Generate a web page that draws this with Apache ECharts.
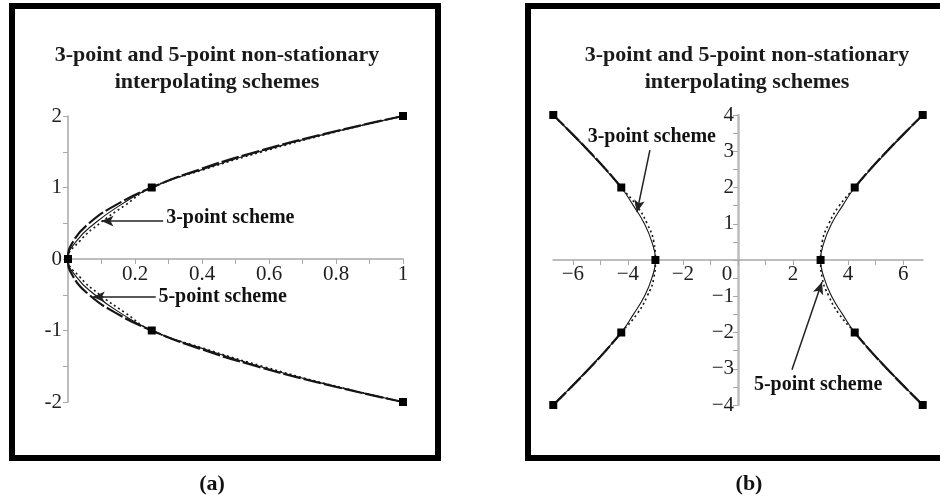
<!DOCTYPE html>
<html>
<head>
<meta charset="utf-8">
<script src="https://cdn.jsdelivr.net/npm/echarts@6/dist/echarts.min.js"></script>
<style>html,body{margin:0;padding:0;background:#fff;}#c{width:940px;height:499px;}</style>
</head>
<body>
<div id="c"></div>
<script>
// ---- Panel (a): parabola-like curve ----
const yA = [-2,-1.75,-1.5,-1.25,-1,-0.75,-0.5,-0.25,0,0.25,0.5,0.75,1,1.25,1.5,1.75,2];
const limitA   = [1,0.766,0.563,0.391,0.25,0.141,0.063,0.016,0,0.016,0.063,0.141,0.25,0.391,0.563,0.766,1];
const scheme3A = [1,0.77,0.57,0.40,0.25,0.155,0.08,0.025,0,0.025,0.08,0.155,0.25,0.40,0.57,0.77,1];
const scheme5A = [1,0.775,0.58,0.405,0.25,0.17,0.095,0.035,0,0.035,0.095,0.17,0.25,0.405,0.58,0.775,1];
const pointsAx = [0,0.25,1,0.25,1];
const pointsAy = [0,1,2,-1,-2];
const xTicksA = [0,0.1,0.2,0.3,0.4,0.5,0.6,0.7,0.8,0.9,1];
const xLabelsA = [0.2,0.4,0.6,0.8,1];
const yTicksA = [-2,-1.5,-1,-0.5,0,0.5,1,1.5,2];
const yLabelsA = [-2,-1,0,1,2];

// ---- Panel (b): hyperbola-like curve (right branch x; left branch = -x) ----
const yB = [-4,-3.5,-3,-2.5,-2,-1.5,-1,-0.5,0,0.5,1,1.5,2,2.5,3,3.5,4];
const limitB   = [6.71,6.05,5.41,4.80,4.24,3.75,3.35,3.09,3,3.09,3.35,3.75,4.24,4.80,5.41,6.05,6.71];
const scheme3B = [6.71,6.05,5.41,4.80,4.24,3.68,3.30,3.06,3,3.06,3.30,3.68,4.24,4.80,5.41,6.05,6.71];
const scheme5B = [6.71,6.06,5.43,4.82,4.24,3.80,3.40,3.13,3,3.13,3.40,3.80,4.24,4.82,5.43,6.06,6.71];
const pointsBx = [3,4.24,6.71,4.24,6.71,-3,-4.24,-6.71,-4.24,-6.71];
const pointsBy = [0,2,4,-2,-4,0,2,4,-2,-4];
const xTicksB = [-6,-5,-4,-3,-2,-1,0,1,2,3,4,5,6];
const xLabelsB = [-6,-4,-2,0,2,4,6];
const yTicksB = [-4,-3.5,-3,-2.5,-2,-1.5,-1,-0.5,0,0.5,1,1.5,2,2.5,3,3.5,4];
const yLabelsB = [-4,-3,-2,-1,1,2,3,4];

const titleText = '3-point and 5-point non-stationary\ninterpolating schemes';
const label3 = '3-point scheme';
const label5 = '5-point scheme';

const FONT = 'Liberation Serif';
const INK = '#161616';
const AXIS = '#a8a8a8';

// layout
const gridA = { left: 68, top: 116, width: 335, height: 286 };
const gridB = { left: 553, top: 115, width: 370, height: 290 };
const xRangeA = [0, 1], yRangeA = [-2, 2];
const xRangeB = [-6.72, 6.72], yRangeB = [-4, 4];
// offsets that put each axis through the origin (axis lines, ticks and labels move together)
const offXA = -gridA.height * (0 - yRangeA[0]) / (yRangeA[1] - yRangeA[0]);
const offXB = -gridB.height * (0 - yRangeB[0]) / (yRangeB[1] - yRangeB[0]);
const offYB = -gridB.width * (0 - xRangeB[0]) / (xRangeB[1] - xRangeB[0]);

function pairs(xs, ys, sign) { return xs.map((x, i) => [x * (sign || 1), ys[i]]); }
function outerSeg(xs, ys, sign, up) { return xs.map((x, i) => (up ? ys[i] >= 2 : ys[i] <= -2) ? [x * sign, ys[i]] : null).filter(p => p); }

const labelStyle = { fontFamily: FONT, fontSize: 21, color: '#1e1e1e' };
function axisCommon() {
  return {
    type: 'value',
    axisLine: { show: true, onZero: false, lineStyle: { color: AXIS, width: 1.5 } },
    splitLine: { show: false },
  };
}
const mainLine = { color: INK, width: 2.2, type: [18, 3] };
const thinLine = { color: INK, width: 1.1, type: 'solid' };
const dotLine = { color: INK, width: 1.6, type: [2, 3] };
const sq = { type: 'scatter', symbol: 'rect', symbolSize: 8, itemStyle: { color: '#000', opacity: 1 }, z: 5 };
const annLabel = { show: true, fontFamily: FONT, fontWeight: 'bold', fontSize: 20, color: '#111', opacity: 1, formatter: p => p.name };
const arrowML = (from, to) => ({
  symbol: ['none', 'arrow'], symbolSize: [8, 12], silent: true,
  label: { show: false },
  lineStyle: { color: '#222', width: 1.5, type: 'solid', opacity: 1 },
  data: [[{ coord: from }, { coord: to }]]
});

function lineS(data, style, xi) {
  return { type: 'line', data: data, xAxisIndex: xi, yAxisIndex: xi, smooth: true, showSymbol: false, symbol: 'none', lineStyle: style, clip: false };
}

const minus = v => String(v).replace('-', '\u2212');
const titleStyle = { fontFamily: FONT, fontWeight: 'bold', fontSize: 22, lineHeight: 27, color: '#1a1a1a' };

const option = {
  animation: false,
  backgroundColor: '#fff',
  title: [
    { text: titleText, left: 212, top: 37, textAlign: 'center', textStyle: titleStyle },
    { text: titleText, left: 742, top: 37, textAlign: 'center', textStyle: titleStyle },
    { text: '(a)', left: 207, top: 468, textAlign: 'center',
      textStyle: { fontFamily: FONT, fontWeight: 'bold', fontSize: 22, color: '#111' } },
    { text: '(b)', left: 744, top: 468, textAlign: 'center',
      textStyle: { fontFamily: FONT, fontWeight: 'bold', fontSize: 22, color: '#111' } }
  ],
  graphic: [
    { type: 'rect', shape: { x: 12, y: 6, width: 426, height: 452 }, style: { fill: 'none', stroke: '#000', lineWidth: 6 }, silent: true },
    { type: 'rect', shape: { x: 528, y: 6, width: 430, height: 452 }, style: { fill: 'none', stroke: '#000', lineWidth: 6 }, silent: true }
  ],
  grid: [
    Object.assign({ containLabel: false, outerBoundsMode: 'none' }, gridA),
    Object.assign({ containLabel: false, outerBoundsMode: 'none' }, gridB)
  ],
  xAxis: [
    Object.assign(axisCommon(), {
      gridIndex: 0, min: xRangeA[0], max: xRangeA[1], position: 'bottom', offset: offXA,
      axisTick: { show: true, length: 5, customValues: xTicksA, lineStyle: { color: AXIS } },
      axisLabel: Object.assign({ customValues: xLabelsA, margin: 5, formatter: v => String(v) }, labelStyle)
    }),
    Object.assign(axisCommon(), {
      gridIndex: 1, min: xRangeB[0], max: xRangeB[1], position: 'bottom', offset: offXB,
      axisTick: { show: true, length: 5, customValues: xTicksB, lineStyle: { color: AXIS } },
      axisLabel: Object.assign({
        customValues: xLabelsB, margin: 4,
        formatter: v => v === 0 ? '{z|0}' : minus(v),
        rich: { z: { fontFamily: FONT, fontSize: 21, color: '#1e1e1e', padding: [0, 22, 0, 0] } }
      }, labelStyle)
    })
  ],
  yAxis: [
    Object.assign(axisCommon(), {
      gridIndex: 0, min: yRangeA[0], max: yRangeA[1], position: 'left',
      axisTick: { show: true, length: 5, customValues: yTicksA, lineStyle: { color: AXIS } },
      axisLabel: Object.assign({ customValues: yLabelsA, margin: 6, formatter: v => String(v) }, labelStyle)
    }),
    Object.assign(axisCommon(), {
      gridIndex: 1, min: yRangeB[0], max: yRangeB[1], position: 'left', offset: offYB,
      axisLine: { show: true, onZero: false, lineStyle: { color: '#bdbdbd', width: 2.5 } },
      axisTick: { show: true, length: 5, customValues: yTicksB, lineStyle: { color: AXIS } },
      axisLabel: Object.assign({ customValues: yLabelsB, margin: 4, formatter: v => minus(v) }, labelStyle)
    })
  ],
  series: [
    // Panel (a)
    lineS(pairs(limitA, yA), mainLine, 0),
    lineS(pairs(scheme3A, yA), thinLine, 0),
    lineS(pairs(scheme5A, yA), dotLine, 0),
    Object.assign({}, sq, { xAxisIndex: 0, yAxisIndex: 0, data: pairs(pointsAx, pointsAy), clip: false }),
    {
      type: 'scatter', xAxisIndex: 0, yAxisIndex: 0, symbolSize: 0, silent: true,
      itemStyle: { opacity: 1 },
      label: Object.assign({ position: 'right', distance: 0 }, annLabel),
      data: [{ name: label3, value: [0.293, 0.575] }, { name: label5, value: [0.27, -0.53] }],
      markLine: arrowML([0.284, 0.53], [0.10, 0.53])
    },
    {
      type: 'scatter', xAxisIndex: 0, yAxisIndex: 0, symbolSize: 0, silent: true, data: [],
      markLine: arrowML([0.262, -0.53], [0.074, -0.53])
    },
    // Panel (b)
    lineS(outerSeg(limitB, yB, 1, true), mainLine, 1),
    lineS(outerSeg(limitB, yB, 1, false), mainLine, 1),
    lineS(outerSeg(limitB, yB, -1, true), mainLine, 1),
    lineS(outerSeg(limitB, yB, -1, false), mainLine, 1),
    lineS(pairs(scheme3B, yB, 1), dotLine, 1),
    lineS(pairs(scheme5B, yB, 1), thinLine, 1),
    lineS(pairs(scheme3B, yB, -1), dotLine, 1),
    lineS(pairs(scheme5B, yB, -1), thinLine, 1),
    Object.assign({}, sq, { xAxisIndex: 1, yAxisIndex: 1, data: pairs(pointsBx, pointsBy), clip: false }),
    {
      type: 'scatter', xAxisIndex: 1, yAxisIndex: 1, symbolSize: 0, silent: true,
      itemStyle: { opacity: 1 },
      label: Object.assign({ position: 'inside' }, annLabel),
      data: [{ name: label3, value: [-3.13, 3.39] }, { name: label5, value: [2.91, -3.45] }],
      markLine: arrowML([-3.2, 3.03], [-3.67, 1.32])
    },
    {
      type: 'scatter', xAxisIndex: 1, yAxisIndex: 1, symbolSize: 0, silent: true, data: [],
      markLine: arrowML([1.96, -3.03], [3.05, -0.61])
    }
  ]
};

const chart = echarts.init(document.getElementById('c'), null, { renderer: 'canvas' });
chart.setOption(option);
</script>
</body>
</html>
